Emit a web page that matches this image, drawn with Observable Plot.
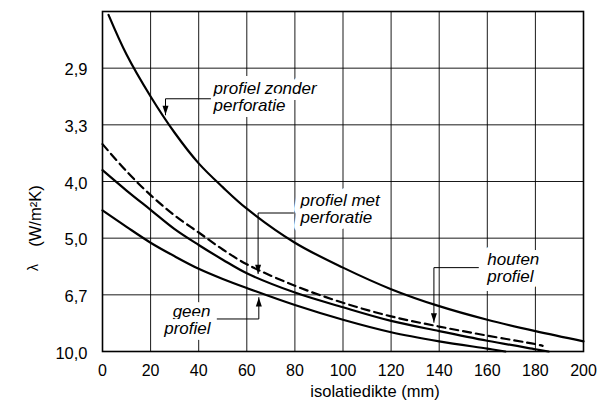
<!DOCTYPE html>
<html>
<head>
<meta charset="utf-8">
<script src="https://cdn.jsdelivr.net/npm/d3@7"></script>
<script src="https://cdn.jsdelivr.net/npm/@observablehq/plot@0.6"></script>
<style>
  html, body { margin: 0; padding: 0; background: #fff; }
</style>
</head>
<body>
<div id="chart"></div>
<script>
// x ticks (mm)
const xTicks = [0, 20, 40, 60, 80, 100, 120, 140, 160, 180, 200];
// y ticks: plotted on a linear scale of 1/label
const yTickValues = [0.10, 0.15, 0.20, 0.25, 0.30, 0.35];
const yTickLabels = ["10,0", "6,7", "5,0", "4,0", "3,3", "2,9"];

// curves (x in mm, y in plotted units)
const zonderX = [2.5, 10, 20, 30, 40, 50, 60, 80, 100, 120, 140, 160, 180, 200];
const zonderY = [0.397, 0.362, 0.325, 0.293, 0.266, 0.245, 0.226, 0.196, 0.174, 0.155, 0.140, 0.128, 0.118, 0.109];
const houtenX = [0, 10, 20, 30, 40, 50, 60, 80, 100, 120, 140, 160, 180, 183];
const houtenY = [0.283, 0.259, 0.238, 0.220, 0.205, 0.190, 0.177, 0.158, 0.143, 0.131, 0.122, 0.114, 0.1065, 0.105];
const metX = [0, 10, 20, 30, 40, 50, 60, 80, 100, 120, 140, 160, 180, 185.5];
const metY = [0.260, 0.242, 0.225, 0.208, 0.194, 0.181, 0.169, 0.152, 0.139, 0.127, 0.118, 0.1095, 0.102, 0.100];
const geenX = [0, 10, 20, 30, 40, 50, 60, 80, 100, 120, 140, 160, 167.5];
const geenY = [0.2245, 0.210, 0.196, 0.184, 0.173, 0.164, 0.156, 0.141, 0.128, 0.117, 0.109, 0.1025, 0.100];

// annotation labels
const labelText = ["profiel zonder\nperforatie", "profiel met\nperforatie", "houten\nprofiel", "geen\nprofiel"];
const labelX = [46.2, 82.3, 160, 44.9];
const labelY = [0.3246, 0.226, 0.1732, 0.128];
const labelAnchor = ["start", "start", "start", "end"];

// leader lines (last point = arrow tip)
const leaderZonderX = [44.9, 26.2, 26.2];
const leaderZonderY = [0.323, 0.323, 0.3088];
const leaderMetX = [79.4, 64.7, 64.7];
const leaderMetY = [0.2222, 0.2222, 0.1687];
const leaderHoutenX = [156.3, 137.8, 137.8];
const leaderHoutenY = [0.174, 0.174, 0.1257];
const leaderGeenX = [47.7, 65.0, 65.0];
const leaderGeenY = [0.1287, 0.1287, 0.1476];

const xLabel = "isolatiedikte (mm)";
const yLabel = "(W/m²K)";
const yLabelSymbol = "λ";

const toPts = (xs, ys) => xs.map((x, i) => ({x, y: ys[i]}));
const curves = [
  {pts: toPts(zonderX, zonderY), dash: null},
  {pts: toPts(metX, metY), dash: null},
  {pts: toPts(geenX, geenY), dash: null},
  {pts: toPts(houtenX, houtenY), dash: "8,5"}
];
const leaders = [
  {pts: toPts(leaderZonderX, leaderZonderY), dir: "down"},
  {pts: toPts(leaderMetX, leaderMetY), dir: "down"},
  {pts: toPts(leaderHoutenX, leaderHoutenY), dir: "down"},
  {pts: toPts(leaderGeenX, leaderGeenY), dir: "up"}
];
const labels = labelText.map((t, i) => ({t, x: labelX[i], y: labelY[i], a: labelAnchor[i]}));

// narrow filled triangle with its tip at the origin, pointing up
const arrowSymbol = {
  draw(ctx) {
    ctx.moveTo(0, 0);
    ctx.lineTo(-3, 9);
    ctx.lineTo(3, 9);
    ctx.closePath();
  }
};

const font = "'Liberation Sans', Arial, Helvetica, sans-serif";

const marks = [
  Plot.gridX(xTicks.slice(1, -1), {stroke: "#000", strokeOpacity: 0.9, strokeWidth: 1}),
  Plot.gridY(yTickValues.slice(1), {stroke: "#000", strokeOpacity: 0.9, strokeWidth: 1}),
  Plot.axisX(xTicks, {tickSize: 0, tickPadding: 13, fontSize: 16, label: null}),
  Plot.axisY(yTickValues, {
    tickSize: 0, tickPadding: 15, fontSize: 16.5, label: null, dy: 2,
    tickFormat: d => yTickLabels[yTickValues.indexOf(d)]
  })
];

// labels with white halo (breaks grid lines behind them)
for (const l of labels) {
  marks.push(Plot.text([l], {
    x: "x", y: "y", text: "t", textAnchor: l.a, lineAnchor: "middle",
    fontSize: 17, fontStyle: "italic", fill: "#000",
    stroke: "#fff", strokeWidth: 12, strokeLinejoin: "round"
  }));
}

for (const c of curves) {
  marks.push(Plot.line(c.pts, {
    x: "x", y: "y", curve: "catmull-rom", stroke: "#000", strokeWidth: 2.2,
    strokeDasharray: c.dash ?? undefined
  }));
}

for (const l of leaders) {
  marks.push(Plot.line(l.pts, {x: "x", y: "y", stroke: "#000", strokeWidth: 1}));
  marks.push(Plot.dot([l.pts[l.pts.length - 1]], {
    x: "x", y: "y", symbol: arrowSymbol, fill: "#000", stroke: null,
    rotate: l.dir === "down" ? 180 : 0
  }));
}

marks.push(
  Plot.text([xLabel], {frameAnchor: "bottom", textAnchor: "middle", lineAnchor: "middle", dx: 32, dy: 40.6, fontSize: 16.5, fill: "#000"}),
  Plot.text([yLabel], {frameAnchor: "left", textAnchor: "middle", lineAnchor: "middle", dx: -67, dy: 34.5, rotate: -90, fontSize: 16.5, fill: "#000"}),
  Plot.text([yLabelSymbol], {frameAnchor: "left", textAnchor: "middle", lineAnchor: "middle", dx: -69, dy: 86, rotate: -90, fontSize: 14, fill: "#000"}),
  Plot.frame({stroke: "#000", strokeWidth: 1.6})
);

const chart = Plot.plot({
  width: 601,
  height: 403,
  marginLeft: 102,
  marginRight: 18,
  marginTop: 11,
  marginBottom: 52,
  style: {fontFamily: font, fontSize: "16px", color: "#000", background: "#fff", overflow: "visible"},
  x: {domain: [0, 200]},
  y: {domain: [0.10, 0.40]},
  marks
});
document.getElementById("chart").append(chart);
</script>
</body>
</html>
